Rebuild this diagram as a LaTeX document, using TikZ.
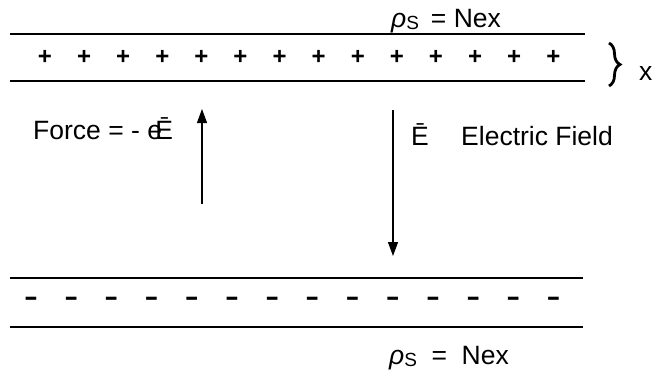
\documentclass[tikz,border=0pt]{standalone}
\usepackage{fontspec}
\setmainfont{Liberation Sans}
\usetikzlibrary{arrows.meta,decorations.pathreplacing}
\tikzset{
  plate/.style={line width=1.4pt},
  chg/.style={inner sep=0pt, font=\fontsize{24}{24}\selectfont\bfseries},
  mchg/.style={inner sep=0pt, font=\fontsize{26}{26}\selectfont\bfseries},
  lbl/.style={inner sep=0pt, anchor=base west, font=\fontsize{26.5}{30}\selectfont},
  fieldarrow/.style={line width=1.1pt, -{Triangle[length=14pt,width=10pt]}}
}
\begin{document}
\begin{tikzpicture}[x=1pt,y=-1pt]
\useasboundingbox (0,0) rectangle (655,376);
% top plate
\draw[plate] (10,34) coordinate (t1) -- (585,34) coordinate (t2);
\draw[plate] (10,81) coordinate (t3) -- (585,81) coordinate (t4);
\foreach \k in {0,...,13} \node[chg] (p\k) at ({45+39.1*\k},57) {+};
% bottom plate
\draw[plate] (10,278) coordinate (b1) -- (583,278) coordinate (b2);
\draw[plate] (10,327) coordinate (b3) -- (583,327) coordinate (b4);
\foreach \k in {0,...,13} \node[mchg] (m\k) at ({31+40.2*\k},301) {\scalebox{1.6}[1]{-}};
% labels
\node[lbl] (rtop) at (391,27) {\textit{ρ}\raisebox{-0.2ex}{\fontsize{19}{19}\selectfont S}\hspace{0.45em}= Nex};
\node[lbl] (rbot) at (389,364) {\textit{ρ}\raisebox{-0.2ex}{\fontsize{19}{19}\selectfont S}\hspace{0.55em}=\hspace{0.55em}Nex};
\node[lbl] (force) at (33,139) {Force = - e\kern-0.25emĒ};
\node[lbl] (ebar) at (411,145) {Ē};
\node[lbl] (efield) at (461,145) {Electric Field};
% brace and thickness
\draw[decorate, decoration={brace, amplitude=11pt}, line width=2.8pt] (609,43) coordinate (br1) -- (609,86) coordinate (br2);
\node[lbl] (xlbl) at (639,80) {x};
% arrows
\coordinate (fa) at (202,204);
\coordinate (fb) at (202,109);
\coordinate (ea) at (393,110);
\coordinate (eb) at (393,256);
\draw[fieldarrow] (fa) -- (fb);
\draw[fieldarrow] (ea) -- (eb);
\end{tikzpicture}
\end{document}
